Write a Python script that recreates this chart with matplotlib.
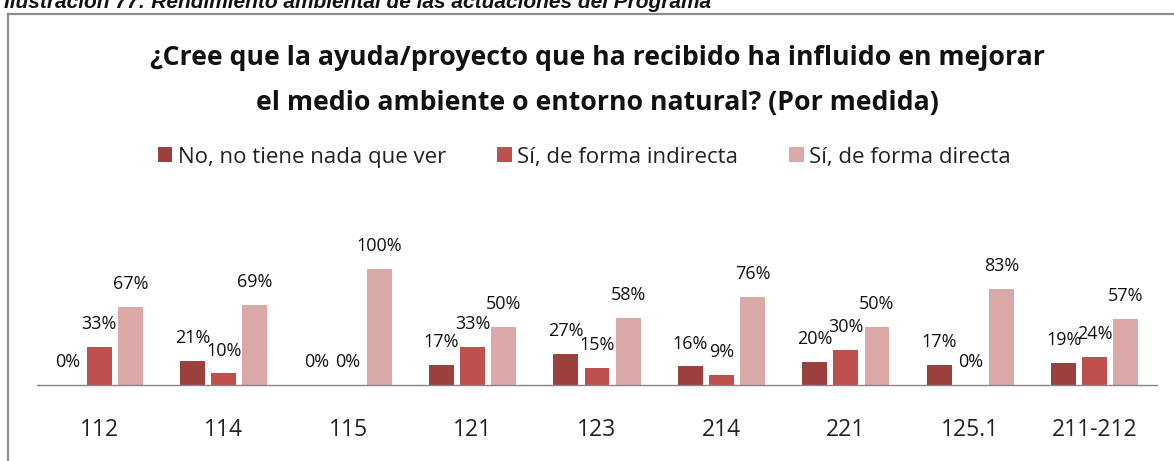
import matplotlib
matplotlib.use("Agg")
import matplotlib.pyplot as plt
from matplotlib.lines import Line2D
import numpy as np

categories = ["112", "114", "115", "121", "123", "214", "221", "125.1", "211-212"]
series_names = ["No, no tiene nada que ver", "Sí, de forma indirecta", "Sí, de forma directa"]
no_nada = [0, 21, 0, 17, 27, 16, 20, 17, 19]
si_indirecta = [33, 10, 0, 33, 15, 9, 30, 0, 24]
si_directa = [67, 69, 100, 50, 58, 76, 50, 83, 57]
colors = ["#9C403E", "#C0504D", "#DAA8A7"]

W, H = 1174, 461
fig = plt.figure(figsize=(W / 100, H / 100), dpi=100)
FONT = "Open Sans"

def fx(px):
    return px / W

def fy(py):
    return 1 - py / H

# outer frame
fig.add_artist(Line2D([fx(8), fx(1180)], [fy(14), fy(14)], color="#8C8C8C", lw=1.6))
fig.add_artist(Line2D([fx(8), fx(8)], [fy(14), fy(470)], color="#8C8C8C", lw=1.6))

# caption (partly cut off at top)
fig.text(fx(4), fy(7.5), "Ilustración 77: Rendimiento ambiental de las actuaciones del Programa",
         family="Liberation Sans", weight="bold", style="italic", fontsize=15,
         ha="left", va="baseline", color="#111111")

# title
fig.text(fx(597), fy(65), "¿Cree que la ayuda/proyecto que ha recibido ha influido en mejorar",
         family=FONT, weight="bold", fontsize=19.2, ha="center", va="baseline", color="#111111")
fig.text(fx(597), fy(110), "el medio ambiente o entorno natural? (Por medida)",
         family=FONT, weight="bold", fontsize=19.2, ha="center", va="baseline", color="#111111")

# axes
ax_left, ax_right = 37, 1157
ax_base, ax_top = 385, 269
ax = fig.add_axes([fx(ax_left), fy(ax_base), (ax_right - ax_left) / W, (ax_base - ax_top) / H])
ax.set_xlim(-0.5, len(categories) - 0.5)
ax.set_ylim(0, 100)

x = np.arange(len(categories))
bw = 0.2
step = 0.25
series = [no_nada, si_indirecta, si_directa]
handles = []
for i, (vals, col, name) in enumerate(zip(series, colors, series_names)):
    pos = x + (i - 1) * step
    bars = ax.bar(pos, vals, width=bw, color=col, label=name, zorder=2)
    handles.append(bars)
    for xp, v in zip(pos, vals):
        ax.annotate(f"{v}%", (xp, v), xytext=(0, 10), textcoords="offset points",
                    ha="center", va="bottom", family=FONT, fontsize=13,
                    color="#111111", annotation_clip=False)

for s in ["top", "right", "left"]:
    ax.spines[s].set_visible(False)
ax.spines["bottom"].set_color("#868686")
ax.spines["bottom"].set_linewidth(1.0)
ax.set_yticks([])
ax.set_xticks(x)
ax.set_xticklabels(categories, family=FONT, fontsize=16.5, color="#222222")
ax.tick_params(axis="x", length=0, pad=24)
ax.patch.set_alpha(0)

fig.legend(handles=handles, labels=series_names, loc="center left",
           bbox_to_anchor=(fx(158), fy(157)), ncol=3, frameon=False,
           prop={"family": FONT, "size": 16}, handlelength=0.65, handleheight=0.65,
           handletextpad=0.25, columnspacing=2.3, borderpad=0, borderaxespad=0,
           labelcolor="#222222")

fig.savefig("out.png", dpi=100)
